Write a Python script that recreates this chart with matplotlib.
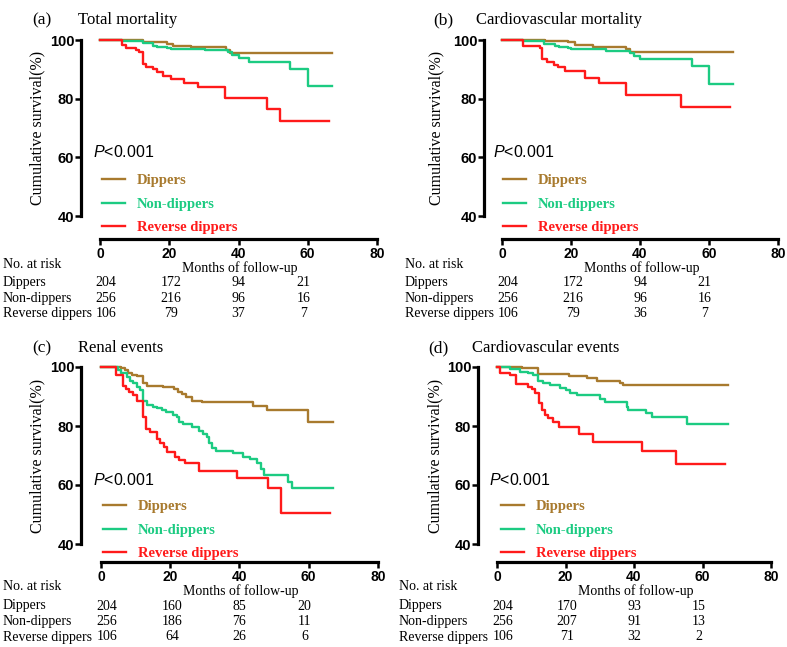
import matplotlib
matplotlib.use('Agg')
import matplotlib.pyplot as plt
from matplotlib.transforms import blended_transform_factory

plt.rcParams['mathtext.fontset'] = 'custom'
plt.rcParams['mathtext.it'] = 'Liberation Sans:italic'
plt.rcParams['mathtext.rm'] = 'Liberation Sans'

SERIF = 'Liberation Serif'
SANS = 'Liberation Sans'

groups = ['Dippers', 'Non-dippers', 'Reverse dippers']
colors = ['#A87A2E', '#1CCB82', '#FF1A1A']

# ---- data (months, cumulative survival %) ----
# (a) Total mortality
a_dip_t = [0, 12.5, 19.3, 21.2, 26.3, 36.3, 37.5, 67.1]
a_dip_s = [100, 99.2, 98.6, 98.1, 97.5, 96.7, 95.6, 95.6]
a_non_t = [0, 6.3, 12.5, 15.4, 16.4, 19.3, 20.5, 30.3, 37.1, 38.0, 40.1, 43.0, 55.0, 60.0, 67.1]
a_non_s = [100, 99.8, 98.9, 98.1, 97.7, 97.3, 96.9, 96.6, 95.8, 95.0, 93.9, 92.6, 90.1, 84.4, 84.4]
a_rev_t = [0, 6.3, 7.4, 10.3, 11.4, 12.3, 13.3, 15.4, 16.4, 18.3, 20.5, 24.4, 28.2, 36.1, 48.2, 52.1, 66.2]
a_rev_s = [100, 98.3, 97.3, 96.7, 95.8, 91.8, 90.9, 90.1, 89.0, 87.8, 86.7, 85.3, 84.1, 80.1, 76.5, 72.5, 72.5]

# (b) Cardiovascular mortality
b_dip_t = [0, 12.4, 19.0, 21.1, 26.3, 36.0, 37.2, 67.1]
b_dip_s = [100, 99.8, 99.2, 98.4, 97.7, 96.8, 96.0, 96.0]
b_non_t = [0, 6.1, 12.1, 15.5, 16.4, 19.0, 20.0, 30.1, 37.0, 38.2, 40.1, 55.0, 60.0, 67.1]
b_non_s = [100, 99.6, 98.6, 98.1, 97.6, 97.3, 96.8, 96.4, 95.5, 94.5, 93.6, 91.0, 85.1, 85.1]
b_rev_t = [0, 6.1, 10.9, 11.6, 13.0, 15.2, 16.1, 18.2, 24.2, 28.0, 36.0, 52.0, 66.2]
b_rev_s = [100, 98.1, 97.3, 93.5, 92.4, 91.5, 90.7, 89.4, 86.9, 85.5, 81.4, 77.2, 77.2]

# (c) Renal events
c_dip_t = [0, 5.8, 6.9, 7.9, 8.9, 10.3, 12.2, 13.2, 18.0, 21.1, 22.3, 23.5, 24.5, 26.2, 29.1, 44.0, 48.0, 59.9, 67.1]
c_dip_s = [100, 99.7, 99.0, 98.1, 97.3, 96.8, 94.5, 93.7, 93.1, 92.5, 91.6, 90.8, 89.9, 88.6, 88.0, 86.9, 85.4, 81.2, 81.2]
c_non_t = [0, 5.0, 5.8, 7.4, 8.4, 9.3, 10.3, 11.3, 12.2, 13.2, 15.1, 16.1, 17.5, 18.8, 20.9, 21.9, 22.6, 23.8,
           26.2, 28.4, 29.6, 30.5, 31.3, 32.0, 33.1, 38.2, 41.1, 43.0, 45.0, 46.1, 47.1, 53.9, 55.1, 67.1]
c_non_s = [100, 99.0, 98.1, 96.5, 95.4, 94.5, 93.3, 92.2, 88.6, 87.1, 86.6, 86.0, 85.4, 84.6, 83.7, 82.9, 81.5, 80.6,
           79.6, 78.4, 77.3, 76.2, 74.1, 72.4, 71.6, 70.7, 69.6, 68.8, 67.3, 65.4, 63.4, 61.1, 58.9, 58.9]
c_rev_t = [0, 4.2, 6.3, 7.2, 8.2, 9.1, 10.3, 12.2, 13.0, 14.2, 16.1, 17.0, 18.2, 19.0, 21.4, 22.6, 24.3, 28.3, 39.2, 48.1, 52.0, 66.1]
c_rev_s = [100, 97.3, 93.6, 92.4, 91.5, 90.5, 88.6, 82.9, 78.9, 78.0, 75.6, 74.1, 73.0, 71.3, 69.4, 68.5, 67.6, 64.7, 62.3, 58.9, 50.4, 50.4]

# (d) Cardiovascular events
d_dip_t = [0, 7.2, 12.1, 21.1, 26.2, 29.1, 35.9, 36.9, 67.5]
d_dip_s = [100, 99.7, 97.6, 97.1, 96.2, 95.4, 94.7, 93.9, 93.9]
d_non_t = [0, 3.8, 6.7, 9.1, 10.6, 12.1, 13.5, 15.5, 18.4, 20.1, 21.3, 23.5, 30.1, 31.5, 37.9, 38.3, 43.4, 45.4, 55.4, 67.5]
d_non_s = [100, 99.3, 98.4, 97.9, 97.3, 95.3, 94.5, 93.9, 93.0, 92.2, 91.3, 90.5, 89.0, 88.0, 86.6, 85.4, 84.3, 82.9, 80.7, 80.7]
d_rev_t = [0, 0.9, 3.8, 5.5, 9.1, 10.1, 11.1, 12.4, 13.0, 14.0, 15.0, 16.4, 18.2, 24.0, 28.1, 42.2, 52.2, 66.6]
d_rev_s = [100, 98.1, 97.3, 94.2, 93.1, 92.4, 91.3, 87.9, 85.4, 83.7, 82.6, 81.5, 79.8, 77.3, 74.5, 71.6, 67.1, 67.1]

# numbers at risk at 0, 20, 40, 60 months
a_risk = [[204, 172, 94, 21], [256, 216, 96, 16], [106, 79, 37, 7]]
b_risk = [[204, 172, 94, 21], [256, 216, 96, 16], [106, 79, 36, 7]]
c_risk = [[204, 160, 85, 20], [256, 186, 76, 11], [106, 64, 26, 6]]
d_risk = [[204, 170, 93, 15], [256, 207, 91, 13], [106, 71, 32, 2]]

titles = ['Total mortality', 'Cardiovascular mortality', 'Renal events', 'Cardiovascular events']
letters = ['(a)', '(b)', '(c)', '(d)']
risk_cols = [1.8, 20.5, 40.0, 58.8]

panels = [
    ([a_dip_t, a_non_t, a_rev_t], [a_dip_s, a_non_s, a_rev_s], a_risk),
    ([b_dip_t, b_non_t, b_rev_t], [b_dip_s, b_non_s, b_rev_s], b_risk),
    ([c_dip_t, c_non_t, c_rev_t], [c_dip_s, c_non_s, c_rev_s], c_risk),
    ([d_dip_t, d_non_t, d_rev_t], [d_dip_s, d_non_s, d_rev_s], d_risk),
]

# layout in pixels: x0, x1 (0..80), ytop, ybot (100..40), y-spine x, x-spine y,
# letter x, title x, title y, ylabel x, p x, p y, legend x, legend top, table label x
layout = [
    (100, 377, 40, 216, 81, 239, 32, 78, 20, 37, 93, 152, 102, 174, 3),
    (502, 778, 40, 216, 484, 239, 433, 476, 20, 436, 493, 152, 503, 174, 405),
    (101, 378, 367, 544, 81, 562, 32, 78, 348, 37, 93, 480, 103, 500, 3),
    (497, 771, 367, 544, 478, 562, 428, 472, 348, 435, 489, 480, 501, 500, 399),
]

W, H = 787, 647
fig = plt.figure(figsize=(W / 100, H / 100), dpi=100)


def fx(x):
    return x / W


def fy(y):
    return 1 - y / H


for k, (ts, ss, risk) in enumerate(panels):
    x0, x1, yt, yb, sx, sy, lx, tx, ty, ylx, px, py, gx, gy, rx = layout[k]
    ax = fig.add_axes([fx(x0), fy(yb), (x1 - x0) / W, (yb - yt) / H])
    ax.patch.set_visible(False)
    ax.set_xlim(0, 80)
    ax.set_ylim(40, 100)
    for side in ['top', 'right']:
        ax.spines[side].set_visible(False)
    ax.spines['left'].set_position(('outward', (x0 - sx) * 0.72))
    ax.spines['bottom'].set_position(('outward', (sy - yb) * 0.72))
    ax.spines['left'].set_linewidth(2.3)
    ax.spines['bottom'].set_linewidth(2.3)
    ax.spines['left'].set_capstyle('projecting')
    ax.spines['bottom'].set_capstyle('projecting')
    ax.set_xticks([0, 20, 40, 60, 80])
    ax.set_yticks([40, 60, 80, 100])
    ax.tick_params(width=1.8, length=4.3)
    ax.tick_params(axis='x', pad=1.2, labelsize=10)
    ax.tick_params(axis='y', pad=0.5, labelsize=10.5)
    for lab in ax.get_xticklabels() + ax.get_yticklabels():
        lab.set_fontfamily(SANS)
        lab.set_fontweight('bold')

    handles = []
    for t, s, c, g in zip(ts, ss, colors, groups):
        h, = ax.step(t, s, where='post', color=c, lw=1.7, clip_on=False, label=g)
        handles.append(h)

    ax.legend(handles=handles, loc='upper left', bbox_to_anchor=(fx(gx), fy(gy)),
              bbox_transform=fig.transFigure, frameon=False,
              prop=dict(family=SERIF, weight='bold', size=10.5), labelcolor='linecolor',
              handlelength=1.6, handletextpad=0.8, labelspacing=0.7,
              borderpad=0, borderaxespad=0)

    fig.text(fx(lx), fy(ty), letters[k], family=SERIF, size=12.5, va='center', ha='left')
    fig.text(fx(tx), fy(ty), titles[k], family=SERIF, size=12, va='center', ha='left')
    fig.text(fx(ylx), fy((yt + yb) / 2), 'Cumulative survival(%)', family=SERIF, size=11.5,
             rotation=90, va='center', ha='center')
    fig.text(fx(px), fy(py), r'$P$<0.001', family=SANS, size=11.5, va='center', ha='left')

    # number at risk table
    tr = blended_transform_factory(ax.transData, fig.transFigure)
    fig.text(fx(rx), fy(sy + 25), 'No. at risk', family=SERIF, size=10, va='center', ha='left')
    ax.text(40.5, fy(sy + 29.5), 'Months of follow-up', transform=tr, family=SERIF, size=10,
            va='center', ha='center')
    for i, g in enumerate(groups):
        yy = fy(sy + 44 + 15.5 * i)
        fig.text(fx(rx), yy, g, family=SERIF, size=10, va='center', ha='left')
        for xc, n in zip(risk_cols, risk[i]):
            ax.text(xc, yy, str(n), transform=tr, family=SERIF, size=10, va='center', ha='center')

fig.savefig('out.png', dpi=100)
